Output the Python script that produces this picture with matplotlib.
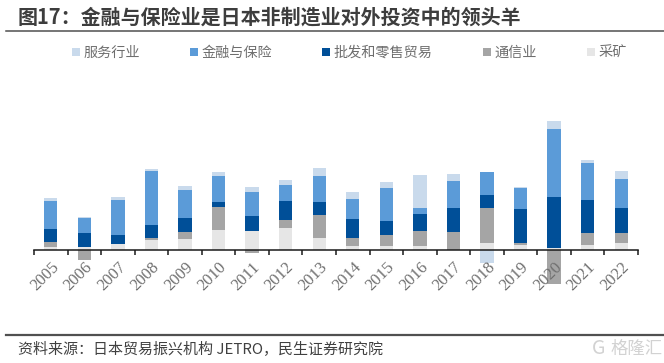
import matplotlib
matplotlib.use("Agg")
import matplotlib.pyplot as plt
import numpy as np

plt.rcParams['font.family'] = ['Noto Sans CJK SC', 'DejaVu Sans']

years = ['2005','2006','2007','2008','2009','2010','2011','2012','2013',
         '2014','2015','2016','2017','2018','2019','2020','2021','2022']
mining  = [3.3,3,6.7,10,11,20.7,19.3,22,12,4.3,4.3,4.3,0,7.7,5.3,2.7,5,7.7]
telecom = [5,-9.3,0,2,7,23,-3,8,23,8.3,10.7,15.3,18.7,35,2.3,-33.3,12,9.3]
trade   = [13,14.7,8.7,13,14.7,4.3,14.7,19.7,13,19,14,16.3,23.3,13,33.3,50.3,33.7,25]
finance = [27.7,14.7,35.3,54,28,26.7,24,15.3,26.7,19.7,33.7,6.7,27.3,23,21.7,68.3,36.7,29]
service = [3,0.7,2.3,2.7,3.3,3.3,5,5,7.3,6.7,5.3,32.7,6.7,-13,0.3,8,2.7,8.7]

stack_order = [
    ('采矿', mining, '#E6E6E6'),
    ('通信业', telecom, '#A5A5A5'),
    ('批发和零售贸易', trade, '#004F98'),
    ('金融与保险', finance, '#5B9BD8'),
    ('服务行业', service, '#C9DAEC'),
]
legend_order = ['服务行业', '金融与保险', '批发和零售贸易', '通信业', '采矿']

W, H = 664, 363
fig = plt.figure(figsize=(W/100, H/100), dpi=100)
base_px, top_px, bot_px = 250.3, 110, 290
ax = fig.add_axes([34/W, 1-bot_px/H, 604/W, (bot_px-top_px)/H])
ax.patch.set_alpha(0)
x = np.arange(len(years))
pos = np.zeros(len(years)); neg = np.zeros(len(years))
handles = {}
for name, vals, col in stack_order:
    v = np.array(vals, float)
    bottoms = np.where(v >= 0, pos, neg)
    b = ax.bar(x, v, bottom=bottoms, width=0.4, color=col, label=name, linewidth=0)
    handles[name] = b
    pos += np.where(v >= 0, v, 0)
    neg += np.where(v < 0, v, 0)
ax.set_xlim(-0.5, len(years)-0.5)
ax.set_ylim(base_px-bot_px, base_px-top_px)
for s in ['top','left','right']:
    ax.spines[s].set_visible(False)
ax.spines['bottom'].set_position(('data', 0))
ax.spines['bottom'].set_linewidth(1.1)
ax.spines['bottom'].set_color('#1a1a1a')
ax.set_yticks([])
ax.set_xticks(np.arange(len(years)+1)-0.5)
ax.set_xticklabels([])
ax.tick_params(axis='x', which='major', length=3.8, width=1.1, color='#1a1a1a')
ax.set_xticks(x, minor=True)
ax.set_xticklabels(years, minor=True, rotation=45, ha='right', va='top',
                   rotation_mode='anchor', family='Liberation Serif',
                   fontsize=12, color='#707070')
ax.tick_params(axis='x', which='minor', length=0, pad=6.5)

fig.legend([handles[n] for n in legend_order], legend_order, ncol=5, frameon=False,
           loc='center left', bbox_to_anchor=(72/W, 1-53/H), fontsize=10.2,
           labelcolor='#6e6e6e', handlelength=0.55, handleheight=0.55,
           handletextpad=0.25, columnspacing=3.55, borderpad=0, borderaxespad=0)

fig.text(18/W, 1-17/H, '图17：金融与保险业是日本非制造业对外投资中的领头羊',
         fontsize=14.4, fontweight='bold', color='#3d3d3d', va='center', ha='left')
fig.add_artist(plt.Line2D([6/W, 1], [1-30.5/H]*2, color='#505050', lw=1.1))
fig.add_artist(plt.Line2D([6/W, 1], [1-335/H]*2, color='#505050', lw=1.6))
fig.text(18/W, 1-350/H, '资料来源：日本贸易振兴机构 JETRO，民生证券研究院',
         fontsize=10.8, color='#404040', va='center', ha='left')
fig.text(611/W, 1-349/H, '格隆汇', fontsize=12.5, color='#D2D2D2', va='center', ha='left')
fig.text(592/W, 1-349/H, 'G', fontsize=14, color='#D2D2D2', va='center', ha='left')
fig.savefig('out.png', dpi=100)
